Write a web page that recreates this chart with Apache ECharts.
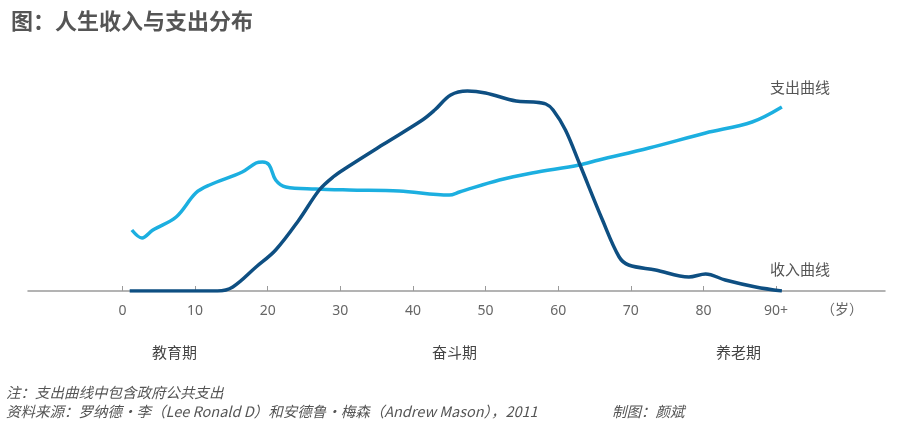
<html>
<head>
<meta charset="utf-8" />
<title>人生收入与支出分布</title>
<script src="https://cdn.jsdelivr.net/npm/echarts@6/dist/echarts.min.js"></script>
<style>
  html, body { margin: 0; padding: 0; background: #fff; }
  #main { width: 900px; height: 432px; }
</style>
</head>
<body>
<div id="main"></div>
<script type="text/javascript">
// ages (years) and relative level above the axis
var spendAge = [1.3, 2.7, 4.2, 7.4, 10.1, 12.0, 16.5, 18.4, 19.3, 20.2, 21.1, 22.5, 26.6, 31.2, 38.1, 45.0, 46.4, 51.9, 56.4, 62.9, 65.6, 72.5, 80.3, 86.7, 90.8];
var spendVal = [61, 53, 61, 74, 98, 106, 119, 128, 129, 126, 111, 104, 102, 101, 100, 96, 99, 111, 118, 126, 131, 143, 158, 169, 184];

var incomeAge = [1, 13.1, 15.2, 18.4, 21.1, 24.3, 27.1, 29.0, 31.0, 36.0, 41.3, 43.0, 45.2, 47.5, 50.0, 54.2, 56.6, 58.3, 59.3, 61.0, 62.9, 66.1, 68.4, 69.7, 73.4, 78.0, 80.3, 83.0, 87.2, 90.8];
var incomeVal = [0, 0, 4, 24, 41, 71, 101, 114, 124, 147, 171, 181, 196, 200, 198, 190, 189, 187, 181, 161, 128, 71, 34, 26, 21, 14, 17, 11, 4, 0];

var tickAges = [0, 10, 20, 30, 40, 50, 60, 70, 80, 90];
var phaseNames = ['教育期', '奋斗期', '养老期'];

function pairs(xs, ys) {
  var out = [];
  for (var i = 0; i < xs.length; i++) out.push([xs[i], ys[i]]);
  return out;
}

var myChart = echarts.init(document.getElementById('main'));
var option = {
  animation: false,
  title: {
    text: '图：人生收入与支出分布',
    left: 6,
    top: 5,
    textStyle: { fontSize: 22, fontWeight: 'bold', color: '#555', fontFamily: 'Noto Sans CJK SC' }
  },
  grid: { left: 28, right: 15, top: 81, bottom: 141 },
  xAxis: {
    type: 'value',
    min: -13,
    max: 105,
    splitLine: { show: false },
    axisLine: { lineStyle: { color: '#9a9a9a', width: 1.5 } },
    axisTick: { inside: true, length: 5, customValues: tickAges, lineStyle: { color: '#9a9a9a' } },
    axisLabel: {
      customValues: tickAges,
      margin: 13,
      fontSize: 14,
      color: '#666',
      fontFamily: 'Noto Sans',
      formatter: function (v) { return v === 90 ? '90+' : String(v); }
    }
  },
  yAxis: {
    type: 'value',
    min: 0,
    max: 210,
    show: false
  },
  series: [
    {
      name: '支出曲线',
      type: 'line',
      data: pairs(spendAge, spendVal),
      smooth: 0.35,
      showSymbol: false,
      lineStyle: { color: '#1cafe0', width: 3.5 }
    },
    {
      name: '收入曲线',
      type: 'line',
      data: pairs(incomeAge, incomeVal),
      smooth: 0.35,
      showSymbol: false,
      lineStyle: { color: '#0e4f82', width: 3.5 }
    }
  ],
  graphic: [
    { type: 'text', left: 770, top: 80, style: { text: '支出曲线', fontSize: 15, fill: '#555', fontFamily: 'Noto Sans CJK SC' } },
    { type: 'text', left: 770, top: 262, style: { text: '收入曲线', fontSize: 15, fill: '#555', fontFamily: 'Noto Sans CJK SC' } },
    { type: 'text', left: 821, top: 302, style: { text: '（岁）', fontSize: 14, fill: '#666', fontFamily: 'Noto Sans CJK SC' } },
    { type: 'text', left: 152, top: 345, style: { text: phaseNames[0], fontSize: 15, fill: '#444', fontFamily: 'Noto Sans CJK SC' } },
    { type: 'text', left: 432, top: 345, style: { text: phaseNames[1], fontSize: 15, fill: '#444', fontFamily: 'Noto Sans CJK SC' } },
    { type: 'text', left: 716, top: 345, style: { text: phaseNames[2], fontSize: 15, fill: '#444', fontFamily: 'Noto Sans CJK SC' } },
    { type: 'text', left: 6, top: 385, style: { text: '注：支出曲线中包含政府公共支出', fontSize: 14.5, fontStyle: 'italic', fill: '#555', fontFamily: 'Noto Sans CJK SC' } },
    { type: 'text', left: 6, top: 404, style: { text: '资料来源：罗纳德·李（Lee Ronald D）和安德鲁·梅森（Andrew Mason），2011', fontSize: 14.5, fontStyle: 'italic', fill: '#555', fontFamily: 'Noto Sans CJK SC' } },
    { type: 'text', left: 612, top: 404, style: { text: '制图：颜斌', fontSize: 14.5, fontStyle: 'italic', fill: '#555', fontFamily: 'Noto Sans CJK SC' } }
  ]
};
myChart.setOption(option);
</script>
</body>
</html>
